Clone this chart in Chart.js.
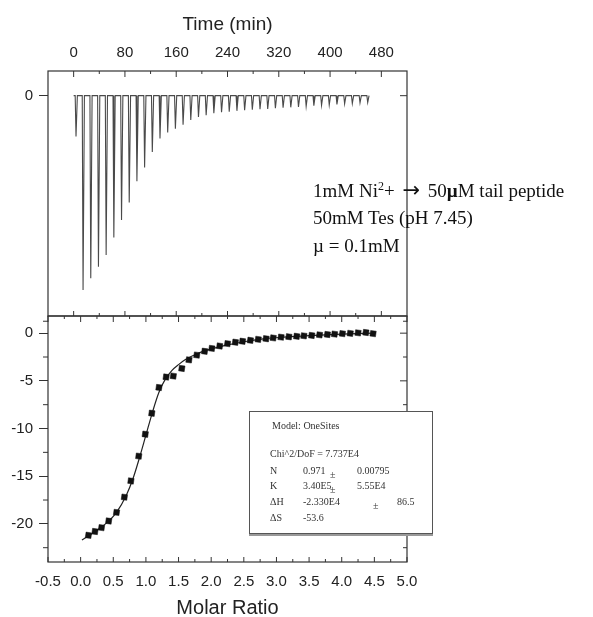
<!DOCTYPE html>
<html>
<head>
<meta charset="utf-8">
<script src="https://cdn.jsdelivr.net/npm/chart.js@4.4.0/dist/chart.umd.min.js"></script>
<style>
  body { margin: 0; background: #fff; width: 593px; height: 617px; position: relative; overflow: hidden; }
  canvas { position: absolute; left: 0; }
  #raw { top: 0; }
  #heat { top: 300px; }
  .note { position: absolute; left: 313px; font-family: "Liberation Serif", serif; font-size: 19px; line-height: 20px; color: #111; white-space: nowrap; }
  .note sup { font-size: 12px; line-height: 0; }
  .note .arr { font-family: "DejaVu Sans", sans-serif; font-size: 21px; margin: 0 3px; }
  #fitbox { position: absolute; left: 249px; top: 411px; width: 182px; height: 121px; border: 1px solid #555;
            background: #fff; box-shadow: 0 2px 0 #999; font-family: "Liberation Serif", serif; font-size: 10px; color: #333; }
  #fitbox span { position: absolute; white-space: nowrap; line-height: 12px; }
</style>
</head>
<body>
<canvas id="raw" width="593" height="317"></canvas>
<canvas id="heat" width="593" height="317"></canvas>

<div class="note" style="top:180px">1mM Ni<sup>2</sup>+ <span class="arr">→</span> 50<b>µ</b>M tail peptide</div>
<div class="note" style="top:208px">50mM Tes (pH 7.45)</div>
<div class="note" style="top:236px">µ = 0.1mM</div>

<div id="fitbox">
  <span style="left:22px;top:8px">Model: OneSites</span>
  <span style="left:20px;top:36px">Chi^2/DoF = 7.737E4</span>
  <span style="left:20px;top:53px">N</span><span style="left:53px;top:53px">0.971</span><span style="left:80px;top:57px">±</span><span style="left:107px;top:53px">0.00795</span>
  <span style="left:20px;top:68px">K</span><span style="left:53px;top:68px">3.40E5</span><span style="left:80px;top:72px">±</span><span style="left:107px;top:68px">5.55E4</span>
  <span style="left:20px;top:84px">ΔH</span><span style="left:53px;top:84px">-2.330E4</span><span style="left:123px;top:88px">±</span><span style="left:147px;top:84px">86.5</span>
  <span style="left:20px;top:100px">ΔS</span><span style="left:53px;top:100px">-53.6</span>
</div>

<script>
// raw thermogram: injection times (min) and peak heights (µcal/sec)
const injectTime = [3, 14, 26, 38, 50, 62, 74, 86, 98, 110, 122, 134, 146, 158, 170, 182, 194, 206, 218, 230,
  242, 254, 266, 278, 290, 302, 314, 326, 338, 350, 362, 374, 386, 398, 410, 422, 434, 446, 458];
const injectPeak = [-0.21, -1.00, -0.94, -0.88, -0.82, -0.73, -0.64, -0.55, -0.44, -0.37, -0.29, -0.22, -0.19,
  -0.17, -0.15, -0.125, -0.11, -0.10, -0.09, -0.085, -0.082, -0.078, -0.075, -0.072, -0.07, -0.068, -0.065,
  -0.062, -0.06, -0.058, -0.055, -0.052, -0.05, -0.048, -0.045, -0.042, -0.04, -0.037, -0.035];

// integrated heats (kcal/mol of injectant) vs molar ratio
const molarRatio = [0.12, 0.22, 0.32, 0.43, 0.55, 0.67, 0.77, 0.89, 0.99, 1.09, 1.20, 1.31, 1.42, 1.55, 1.66,
  1.78, 1.90, 2.01, 2.13, 2.25, 2.37, 2.48, 2.60, 2.72, 2.84, 2.95, 3.07, 3.19, 3.31, 3.42, 3.54, 3.66, 3.78,
  3.89, 4.01, 4.13, 4.25, 4.37, 4.48];
const heatPerInj = [-21.2, -20.8, -20.4, -19.7, -18.8, -17.2, -15.5, -12.9, -10.6, -8.4, -5.7, -4.6, -4.5, -3.7,
  -2.8, -2.3, -1.9, -1.6, -1.35, -1.1, -0.95, -0.85, -0.75, -0.65, -0.58, -0.5, -0.42, -0.38, -0.33, -0.28,
  -0.24, -0.18, -0.14, -0.1, -0.05, -0.02, 0.03, 0.07, -0.05];

// fitted one-site curve
const fitRatio = [0.02, 0.2, 0.4, 0.55, 0.7, 0.8, 0.9, 1.0, 1.1, 1.2, 1.3, 1.4, 1.5, 1.6, 1.8, 2.0, 2.2, 2.5,
  2.8, 3.1, 3.5, 4.0, 4.5];
const fitHeat = [-21.7, -20.9, -19.9, -18.8, -17.0, -15.3, -13.1, -10.7, -8.3, -6.2, -4.8, -3.9, -3.3, -2.8,
  -2.1, -1.65, -1.3, -0.9, -0.6, -0.42, -0.25, -0.1, 0.0];

// tick labels
const timeTicks = [0, 80, 160, 240, 320, 400, 480];
const ratioTicks = [-0.5, 0.0, 0.5, 1.0, 1.5, 2.0, 2.5, 3.0, 3.5, 4.0, 4.5, 5.0];
const heatTicks = [0, -5, -10, -15, -20];

const tickFont = { family: '"Liberation Sans", Arial, sans-serif', size: 15 };
const ink = '#222';

const mids = arr => arr.slice(1).map((v, i) => (v + arr[i]) / 2);

// build the thermogram trace from the injections
const rawTrace = [{ x: 0, y: 0 }];
injectTime.forEach((t, i) => {
  rawTrace.push({ x: t - 0.6, y: 0 }, { x: t + 0.7, y: injectPeak[i] }, { x: t + 2.8, y: 0 });
});
rawTrace.push({ x: 462, y: 0 });

// keep chart areas exactly where the frames sit
const noPad = s => { s.paddingTop = 0; s.paddingBottom = 0; s.paddingLeft = 0; s.paddingRight = 0; };

// frame with inward ticks
const frame = {
  id: 'frame',
  afterDraw(chart, args, o) {
    const { ctx, chartArea: a, scales } = chart;
    const xs = scales.x, ys = scales.y;
    ctx.save();
    ctx.strokeStyle = '#333';
    ctx.lineWidth = 1.2;
    ctx.strokeRect(a.left, a.top, a.right - a.left, a.bottom - a.top);
    ctx.lineWidth = 1;
    const seg = (x1, y1, x2, y2) => { ctx.beginPath(); ctx.moveTo(x1, y1); ctx.lineTo(x2, y2); ctx.stroke(); };
    o.xMajor.forEach(v => {
      const px = xs.getPixelForValue(v);
      seg(px, a.top, px, a.top + 6);
      seg(px, a.bottom, px, a.bottom - 5);
    });
    o.xMinor.forEach(v => {
      const px = xs.getPixelForValue(v);
      seg(px, a.top, px, a.top + 3);
      seg(px, a.bottom, px, a.bottom - 3);
    });
    o.yMajor.forEach(v => {
      const py = ys.getPixelForValue(v);
      seg(a.right, py, a.right - 7, py);
    });
    o.yMinor.forEach(v => {
      const py = ys.getPixelForValue(v);
      seg(a.right, py, a.right - 4, py);
      seg(a.left, py, a.left - 5, py);
    });
    ctx.restore();
  }
};

new Chart(document.getElementById('raw'), {
  type: 'line',
  data: {
    datasets: [{
      data: rawTrace,
      borderColor: '#4a4a4a',
      borderWidth: 1.1,
      pointRadius: 0,
      tension: 0
    }]
  },
  options: {
    responsive: false,
    animation: false,
    layout: { padding: { left: 0, right: 186, top: 0, bottom: 1 } },
    plugins: {
      legend: { display: false },
      tooltip: { enabled: false },
      frame: { xMajor: timeTicks, xMinor: mids(timeTicks), yMajor: [0], yMinor: [] }
    },
    scales: {
      x: {
        type: 'linear',
        position: 'top',
        min: -40,
        max: 520,
        afterBuildTicks: s => { s.ticks = timeTicks.map(v => ({ value: v })); },
        afterFit: s => { s.height = 71; noPad(s); },
        grid: { display: false },
        border: { display: false },
        ticks: { padding: 1, font: tickFont, color: ink, maxRotation: 0 },
        title: {
          display: true,
          text: 'Time (min)',
          color: ink,
          font: { family: '"Liberation Sans", Arial, sans-serif', size: 19 },
          padding: { top: 13, bottom: 0 }
        }
      },
      y: {
        min: -1.134,
        max: 0.127,
        afterBuildTicks: s => { s.ticks = [{ value: 0 }]; },
        afterFit: s => { s.width = 48; noPad(s); },
        grid: { drawOnChartArea: false, tickLength: 9, color: '#333' },
        border: { display: false },
        ticks: { padding: 6, font: tickFont, color: ink }
      }
    }
  },
  plugins: [frame]
});

new Chart(document.getElementById('heat'), {
  type: 'line',
  data: {
    datasets: [
      {
        data: molarRatio.map((x, i) => ({ x, y: heatPerInj[i] })),
        showLine: false,
        pointStyle: 'rect',
        pointRadius: 4,
        pointRotation: 8,
        pointBackgroundColor: '#111',
        pointBorderColor: '#111',
        pointBorderWidth: 0.5,
        order: 0
      },
      {
        data: fitRatio.map((x, i) => ({ x, y: fitHeat[i] })),
        borderColor: '#222',
        borderWidth: 1.2,
        pointRadius: 0,
        cubicInterpolationMode: 'monotone',
        order: 1
      }
    ]
  },
  options: {
    responsive: false,
    animation: false,
    layout: { padding: { left: 0, right: 186, top: 16, bottom: 0 } },
    plugins: {
      legend: { display: false },
      tooltip: { enabled: false },
      frame: { xMajor: ratioTicks, xMinor: mids(ratioTicks), yMajor: heatTicks, yMinor: mids([2.5].concat(heatTicks, [-25])) }
    },
    scales: {
      x: {
        type: 'linear',
        position: 'bottom',
        min: -0.5,
        max: 5.0,
        afterBuildTicks: s => { s.ticks = ratioTicks.map(v => ({ value: v })); },
        afterFit: s => { s.height = 55; noPad(s); },
        grid: { display: false },
        border: { display: false },
        ticks: { padding: 3, font: tickFont, color: ink, maxRotation: 0, callback: v => v.toFixed(1) },
        title: {
          display: true,
          text: 'Molar Ratio',
          color: ink,
          font: { family: '"Liberation Sans", Arial, sans-serif', size: 20 },
          padding: { top: 0, bottom: -3 }
        }
      },
      y: {
        min: -24,
        max: 1.8,
        afterBuildTicks: s => { s.ticks = heatTicks.map(v => ({ value: v })); },
        afterFit: s => { s.width = 48; noPad(s); },
        grid: { drawOnChartArea: false, tickLength: 9, color: '#333' },
        border: { display: false },
        ticks: { padding: 6, font: tickFont, color: ink }
      }
    }
  },
  plugins: [frame]
});
</script>
</body>
</html>
